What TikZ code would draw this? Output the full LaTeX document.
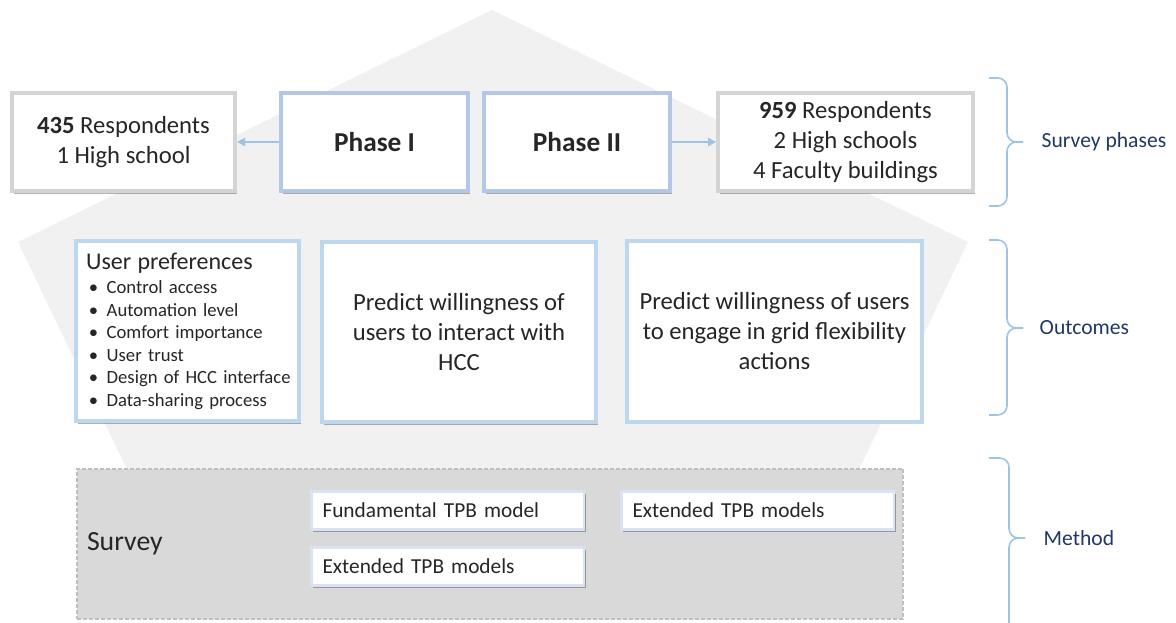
\documentclass[tikz,border=0pt]{standalone}
\usepackage{fontspec}
\setmainfont{Carlito}
\usetikzlibrary{shadows,arrows.meta}
\definecolor{pentagray}{HTML}{F1F1F1}
\definecolor{greyedge}{HTML}{D4D4D4}
\definecolor{phaseedge}{HTML}{B4C7E7}
\definecolor{outedge}{HTML}{BDD7EE}
\definecolor{tpbedge}{HTML}{DAE3F3}
\definecolor{surveyfill}{HTML}{D9D9D9}
\definecolor{surveyedge}{HTML}{BFBFBF}
\definecolor{linkblue}{HTML}{9DC3E6}
\definecolor{labelblue}{HTML}{203864}
\definecolor{inktext}{HTML}{262626}
\newcommand{\prefitem}[1]{\mbox{\makebox[15.4pt][l]{\hspace{2pt}\textbullet}#1}}

\begin{document}
\begin{tikzpicture}[
    x=0.75pt, y=-0.75pt,
    text=inktext,
    shadowed/.style={drop shadow={shadow xshift=1.6pt, shadow yshift=-2pt, opacity=0.3, fill=black}},
    countbox/.style={draw=greyedge, line width=3pt, fill=white, shadowed, align=center, inner ysep=1pt, font=\fontsize{18.5}{22.5}\selectfont, minimum height=73.5pt},
    phasebox/.style={draw=phaseedge, line width=3pt, fill=white, shadowed, font=\fontsize{20.5}{24}\selectfont\bfseries, minimum width=140pt, minimum height=73.5pt},
    outbox/.style={draw=outedge, line width=3pt, fill=white, shadowed, align=center, font=\fontsize{18.5}{22.5}\selectfont, minimum height=135pt},
    tpbbox/.style={draw=tpbedge, line width=2.2pt, fill=white, shadowed, align=left, inner xsep=8.6pt, text width=187.5pt, minimum height=28.5pt, font=\fontsize{16}{19.2}\selectfont},
    surveyarea/.style={draw=surveyedge, fill=surveyfill, line width=1.5pt, dash pattern=on 3pt off 1.5pt, minimum height=113pt},
    link/.style={linkblue, line width=1.5pt, -{Triangle[length=6pt,width=6pt]}},
    bracket/.style={linkblue, line width=1.2pt, rounded corners=7pt},
    sidelabel/.style={anchor=west, text=labelblue, font=\fontsize{16.2}{19}\selectfont},
]
    \useasboundingbox (0,0) rectangle (1176,623);

    % Background pentagon
    \fill[pentagray] (492,10) -- (968,242) -- (787,620) -- (199,620) -- (18,242) -- cycle;

    % Survey phases row
    \node[countbox, minimum width=167.25pt] (resone) at (123.5,142) {\textbf{435} Respondents\\1 High school};
    \node[phasebox] (phaseone) at (374.5,142) {Phase I};
    \node[phasebox] (phasetwo) at (577,142) {Phase II};
    \node[countbox, minimum width=191pt] (restwo) at (845.5,142) {\textbf{959} Respondents\\2 High schools\\4 Faculty buildings};

    \draw[link] (phaseone) -- (resone);
    \draw[link] (phasetwo) -- (restwo);

    % Outcomes row
    \node[outbox, align=left, inner xsep=7.5pt, text width=152pt, font=\fontsize{14}{16.9}\selectfont] (prefs) at (187.5,331)
      {{\fontsize{18}{22}\selectfont User preferences}\\[1.5pt]
       \prefitem{Control access}\\
       \prefitem{Automation level}\\
       \prefitem{Comfort importance}\\
       \prefitem{User trust}\\
       \prefitem{Design of HCC interface}\\
       \prefitem{Data-sharing process}};
    \node[outbox, minimum width=205.5pt] (interact) at (459,332) {Predict willingness of\\users to interact with\\HCC};
    \node[outbox, minimum width=221pt] (flex) at (774.5,331.5) {Predict willingness of users\\to engage in grid flexibility\\actions};

    % Method row
    \node[surveyarea, align=left, inner xsep=7.5pt, text width=604.5pt, font=\fontsize{20.8}{25}\selectfont] (survey) at (490,544) {Survey};
    \node[tpbbox] (fundtpb) at (447.5,510.5) {Fundamental TPB model};
    \node[tpbbox] (exttpbr) at (757.5,510.5) {Extended TPB models};
    \node[tpbbox] (exttpbl) at (447.5,566.5) {Extended TPB models};

    % Braces on the right
    \coordinate (phtip) at (1023,142);
    \draw[bracket] (989,78) -| (1007,142) -- (phtip);
    \draw[bracket] (989,206) -| (1007,142) -- (phtip);
    \node[sidelabel] (phlabel) at (1037,142) {Survey phases};

    \coordinate (outtip) at (1023,328);
    \draw[bracket] (989,240) -| (1007,328) -- (outtip);
    \draw[bracket] (989,415) -| (1007,328) -- (outtip);
    \node[sidelabel] (outlabel) at (1035,328) {Outcomes};

    \coordinate (mettip) at (1025,538);
    \draw[bracket] (989,458) -| (1009,538) -- (mettip);
    \draw[bracket] (1009,640) -- (1009,538) -- (mettip);
    \node[sidelabel] (metlabel) at (1039,538) {Method};
\end{tikzpicture}
\end{document}
